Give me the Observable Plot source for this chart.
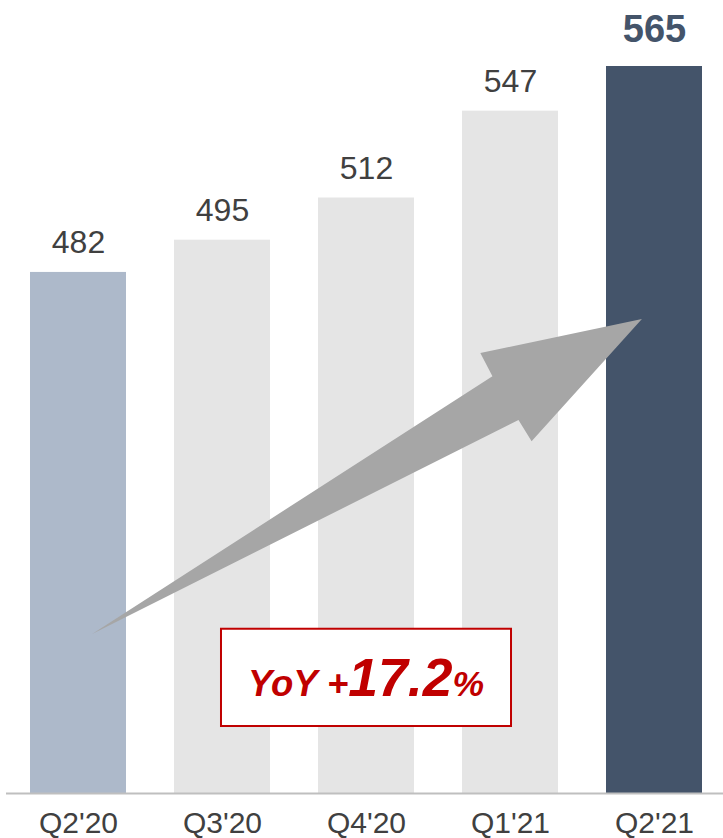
<!DOCTYPE html>
<html>
<head>
<meta charset="utf-8">
<script src="https://cdn.jsdelivr.net/npm/d3@7"></script>
<script src="https://cdn.jsdelivr.net/npm/@observablehq/plot@0.6"></script>
<style>
  html, body { margin: 0; padding: 0; background: #fff; }
  #chart { width: 723px; height: 838px; }
</style>
</head>
<body>
<div id="chart"></div>
<script>
// ---- data ----
const quarters = ["Q2'20", "Q3'20", "Q4'20", "Q1'21", "Q2'21"];
const values = [482, 495, 512, 547, 565];
const yDomain = [272, 591.6];
const barColors = ["#adb9ca", "#e5e5e5", "#e5e5e5", "#e5e5e5", "#44546a"];

// arrow outline: u = position in bar steps from first bar centre, v = value on y scale
const arrowU = [0.098, 2.878, 2.794, 3.916, 3.150, 3.059];
const arrowV = [336.1, 440.0, 449.3, 463.0, 413.8, 422.3];

// YoY callout box (u range in steps, value range) and text
const boxU = [0.993, 3.007];
const boxV = [299.0, 338.2];
const yoyParts = ["YoY +", "17.2", "%"];
const yoyBaseline = 311.1;

const data = quarters.map((q, i) => ({q, v: values[i], c: barColors[i], i}));

function callout(index, scales) {
  const x = scales.x, y = scales.y;
  const bw = x.bandwidth ? x.bandwidth() : 0;
  const c0 = x(quarters[0]) + bw / 2;
  const step = x(quarters[1]) - x(quarters[0]);
  const px = u => c0 + u * step;
  const g = d3.create("svg:g");
  const pts = arrowU.map((u, i) => [px(u), y(arrowV[i])]);
  g.append("path")
    .attr("d", "M" + pts.map(p => p.join(",")).join("L") + "Z")
    .attr("fill", "#a6a6a6");
  const x0 = px(boxU[0]), x1 = px(boxU[1]);
  const yTop = y(boxV[1]), yBot = y(boxV[0]);
  g.append("rect")
    .attr("x", x0).attr("y", yTop)
    .attr("width", x1 - x0).attr("height", yBot - yTop)
    .attr("fill", "#fff").attr("stroke", "#c00000").attr("stroke-width", 2);
  const t = g.append("text")
    .attr("x", (x0 + x1) / 2).attr("y", y(yoyBaseline))
    .attr("text-anchor", "middle")
    .attr("font-family", "'Liberation Sans', Arial, sans-serif")
    .attr("font-weight", "bold").attr("font-style", "italic")
    .attr("fill", "#c00000");
  const sizes = [36.5, 53.5, 35.5];
  yoyParts.forEach((s, i) => t.append("tspan").attr("font-size", sizes[i]).text(s));
  return g.node();
}

const chart = Plot.plot({
  width: 723,
  height: 838,
  marginLeft: 6,
  marginRight: -3,
  marginTop: 0,
  marginBottom: 45,
  style: {fontFamily: "'Liberation Sans', Arial, sans-serif", background: "#fff", overflow: "visible"},
  x: {domain: quarters, paddingInner: 0.33, paddingOuter: 0.165, axis: null, label: null},
  y: {domain: yDomain, axis: null, label: null},
  marks: [
    Plot.barY(data, {x: "q", y1: yDomain[0], y2: "v", fill: "c"}),
    Plot.ruleY([yDomain[0]], {stroke: "#bfbfbf", strokeWidth: 2}),
    Plot.axisX({tickSize: 0, tickPadding: 18, fontSize: 30, fill: "#404040", label: null}),
    Plot.text(data.filter(d => d.i < 4), {x: "q", y: "v", text: d => String(d.v), lineAnchor: "bottom", dy: -19, fontSize: 32, fill: "#404040"}),
    Plot.text(data.filter(d => d.i === 4), {x: "q", y: "v", text: d => String(d.v), lineAnchor: "bottom", dy: -25, fontSize: 38, fontWeight: "bold", fill: "#44546a"}),
    callout
  ]
});
document.getElementById("chart").appendChild(chart);
</script>
</body>
</html>
